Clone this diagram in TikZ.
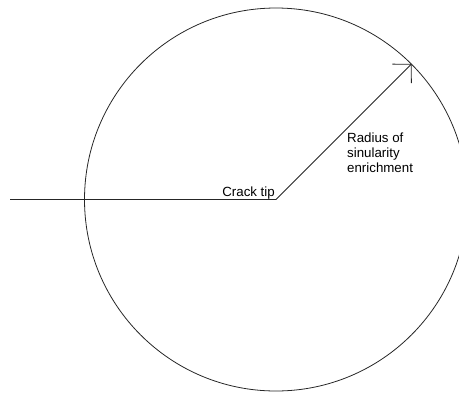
\documentclass[tikz,border=0pt]{standalone}
\usepackage{fontspec}
\setmainfont{Liberation Sans}
\usetikzlibrary{arrows.meta}
\begin{document}
\begin{tikzpicture}[x=1pt,y=-1pt,
  ln/.style={line width=0.8pt,draw=black!85},
  lbl/.style={font=\fontsize{13.3}{15}\selectfont,inner sep=0pt}]
\useasboundingbox (0,0) rectangle (459,392);
\coordinate (tip) at (276,199.5);
\coordinate (start) at (10,199.5);
\node[ln,draw,circle,minimum size=383pt,inner sep=0pt] (circ) at (tip) {};
\draw[ln] (start) -- (tip);
\draw[ln,-{Straight Barb[length=13.4pt,width=27pt]}] (tip) -- (circ.45);
\node[lbl,anchor=base east] (ct) at (275,196) {Crack tip};
\node[lbl,anchor=north west,align=left] (rad) at (347,133) {Radius of\\sinularity\\enrichment};
\end{tikzpicture}
\end{document}
